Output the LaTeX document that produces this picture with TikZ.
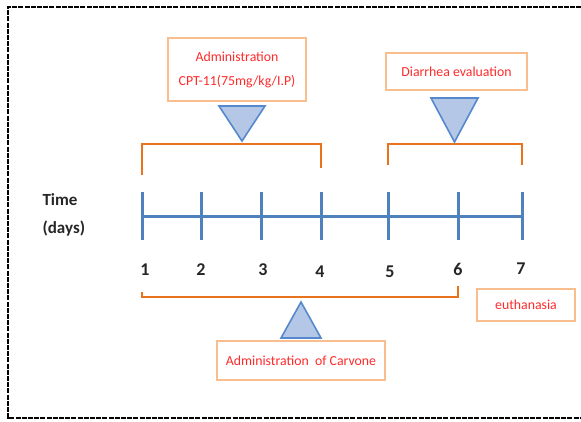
\documentclass[tikz,border=0pt]{standalone}
\usepackage{fontspec}
\setmainfont{Carlito}
\definecolor{tlblue}{HTML}{4F81BD}
\definecolor{brorange}{HTML}{E8731C}
\definecolor{boxorange}{HTML}{F8BE8E}
\definecolor{trifill}{HTML}{B4C7E7}
\definecolor{triedge}{HTML}{5588CC}
\definecolor{txtred}{HTML}{FF2A2A}
\begin{document}
\begin{tikzpicture}[x=1pt,y=-1pt,
  tl/.style={draw=tlblue,line width=3pt},
  bracket/.style={draw=brorange,line width=1.8pt},
  infobox/.style={draw=boxorange,line width=2pt,fill=white,text=txtred,font=\fontsize{13.8}{16}\selectfont,align=center,inner sep=0pt},
  tri/.style={draw=triedge,fill=trifill,line width=1.6pt,line join=miter},
  daynum/.style={font=\fontsize{18}{20}\selectfont\bfseries,text=black!85},
  lbl/.style={font=\fontsize{17}{20}\selectfont\bfseries,text=black!85}]
\useasboundingbox (0,0) rectangle (581,421);
% frame
\draw[black,line width=1.6pt,dash pattern=on 5pt off 1.2pt] (600,7) -- (8,7) -- (8,418) -- (600,418);
% timeline
\coordinate (t1) at (142,216);
\coordinate (t2) at (201,216);
\coordinate (t3) at (261,216);
\coordinate (t4) at (321,216);
\coordinate (t5) at (388,216);
\coordinate (t6) at (458,216);
\coordinate (t7) at (522,216);
\draw[tl] (t1) -- (t7);
\foreach \i in {1,...,7}{
  \draw[tl] ([yshift=-24pt]t\i) -- ([yshift=24pt]t\i);
}
\node[daynum] (n1) at (145,270) {1};
\node[daynum] (n2) at (201,270) {2};
\node[daynum] (n3) at (263,270) {3};
\node[daynum] (n4) at (320,272) {4};
\node[daynum] (n5) at (390,272) {5};
\node[daynum] (n6) at (458,269) {6};
\node[daynum] (n7) at (521,269) {7};
\node[lbl,anchor=west] (time) at (39,200) {Time};
\node[lbl,anchor=west] (days) at (39,229) {(days)};
% brackets
\draw[bracket] (142,175) -- (142,144) -- (321,144) -- (321,168);
\draw[bracket] (388,165) -- (388,144) -- (522,144) -- (522,165);
\draw[bracket] (142,292) -- (142,297) -- (458,297) -- (458,286);
% boxes
\node[infobox,minimum width=138pt,minimum height=63pt] (b1) at (237,69.5) {Administration\\[8pt]CPT-11(75mg/kg/I.P)};
\node[infobox,minimum width=141pt,minimum height=37pt] (b2) at (456.5,71.5) {Diarrhea evaluation};
\node[infobox,minimum width=168pt,minimum height=39pt] (b3) at (301,360.5) {Administration\ \ of Carvone};
\node[infobox,minimum width=98pt,minimum height=32pt] (b4) at (526,305) {euthanasia};
% triangles
\draw[tri] (219,106) -- (265,106) -- (242,141) -- cycle;
\draw[tri] (431,98) -- (478,98) -- (454.5,142) -- cycle;
\draw[tri] (301,302) -- (321,338) -- (281,338) -- cycle;
\end{tikzpicture}
\end{document}
